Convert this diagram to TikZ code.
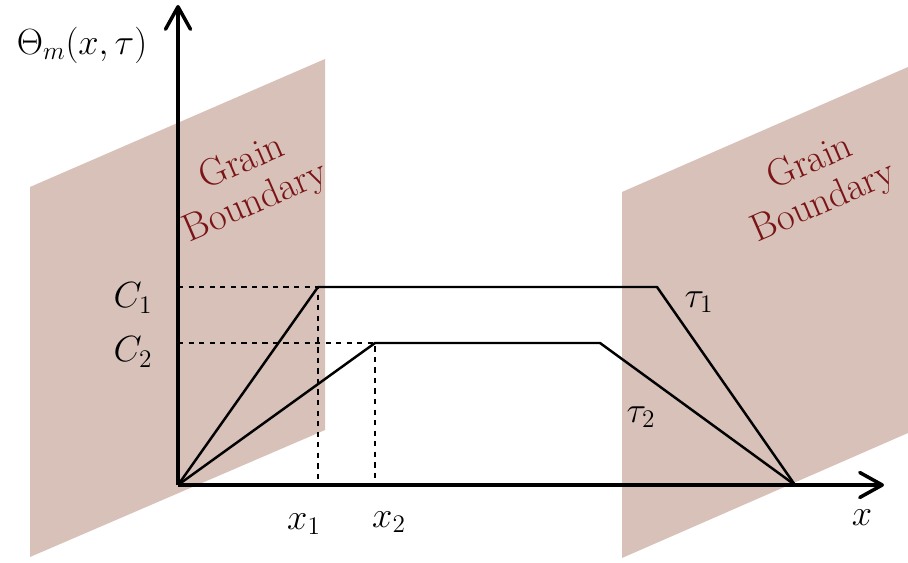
\documentclass[tikz,border=0pt]{standalone}
\usetikzlibrary{arrows.meta,positioning}
\definecolor{gbfill}{RGB}{215,193,185}
\definecolor{gbtext}{RGB}{122,20,22}
\tikzset{
  axis/.style={line width=2pt,-{Straight Barb[length=4.5mm,width=5mm,round]}},
  curve/.style={line width=1.4pt,line join=round},
  guide/.style={line width=1.1pt,dashed},
  plane/.style={fill=gbfill,draw=none},
  gblabel/.style={text=gbtext,rotate=23.5,inner sep=0pt,font=\fontsize{22}{26}\selectfont},
  lbl/.style={font=\fontsize{20}{22}\selectfont}
}
\begin{document}
\begin{tikzpicture}[x=0.02cm,y=-0.02cm]
\useasboundingbox (0,0) rectangle (908,563);
% grain boundaries
\fill[plane] (30,187) -- (325,59) -- (325,430) -- (30,557) -- cycle;
\fill[plane] (622,192) -- (908,67) -- (908,433) -- (622,558) -- cycle;
\node[gblabel] (gbl1) at (241,160) {Grain};
\node[gblabel] (gbl2) at (256,203) {Boundary};
\node[gblabel] (gbr1) at (809,160) {Grain};
\node[gblabel] (gbr2) at (824,203) {Boundary};
% points
\coordinate (O) at (178,485);
\coordinate (ytip) at (178,5);
\coordinate (xtip) at (884,485);
\coordinate (c1) at (178,287);
\coordinate (c2) at (178,343);
\coordinate (p1) at (318,287);
\coordinate (p2) at (375,343);
\coordinate (x1) at (318,485);
\coordinate (x2) at (375,485);
\coordinate (q1) at (657,287);
\coordinate (q2) at (600,343);
\coordinate (e) at (795,485);
% guides
\draw[guide] (c1) -- (p1) -- (x1);
\draw[guide] (c2) -- (p2) -- (x2);
% profiles
\draw[curve] (O) -- (p1) -- (q1) -- (e);
\draw[curve] (O) -- (p2) -- (q2) -- (e);
% axes
\draw[axis] (O) -- (ytip);
\draw[axis] (O) -- (xtip);
% labels
\node[lbl,font=\fontsize{22}{24}\selectfont] (ylab) at (82,45) {$\Theta_m(x,\tau)$};
\node[lbl] (lc1) at (133,298) {$C_1$};
\node[lbl] (lc2) at (133,352) {$C_2$};
\node[lbl] (lx1) at (304,524) {$x_1$};
\node[lbl] (lx2) at (389,522) {$x_2$};
\node[lbl] (lx) at (862,518) {$x$};
\node[lbl] (lt1) at (699,302) {$\tau_1$};
\node[lbl] (lt2) at (641,417) {$\tau_2$};
\end{tikzpicture}
\end{document}
